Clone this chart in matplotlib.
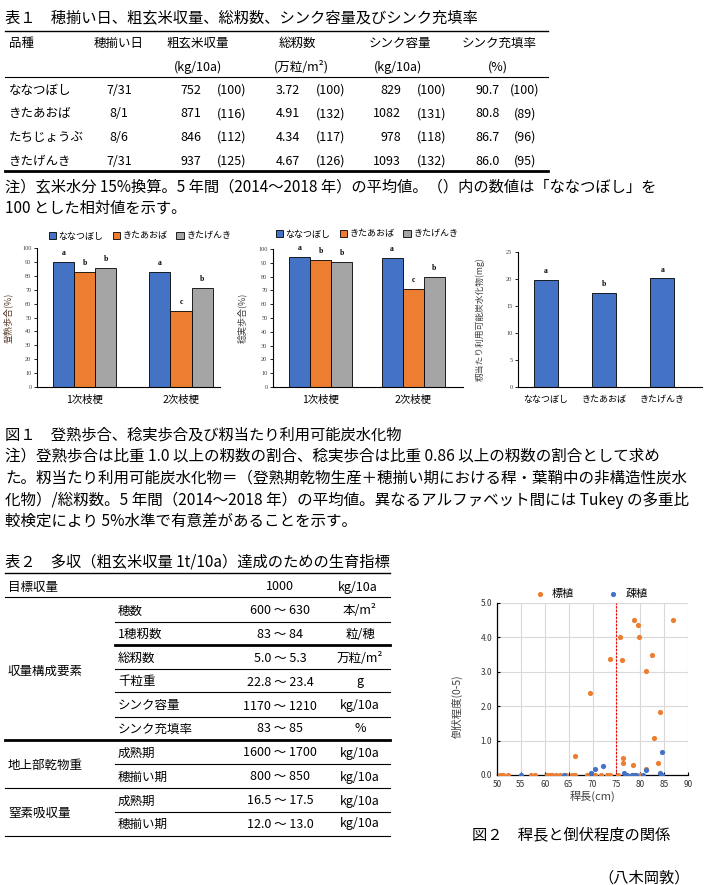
import numpy as np
import matplotlib.pyplot as plt
from matplotlib.lines import Line2D

plt.rcParams['font.family'] = ['Noto Sans CJK JP', 'DejaVu Sans']

# ---------------- data ----------------
# table 1
varieties = ["ななつぼし", "きたあおば", "たちじょうぶ", "きたげんき"]
heading_dates = ["7/31", "8/1", "8/6", "7/31"]
yield_kg = ["752", "871", "846", "937"]
yield_rel = [100, 116, 112, 125]
spikelets = ["3.72", "4.91", "4.34", "4.67"]
spikelets_rel = [100, 132, 117, 126]
sink_cap = ["829", "1082", "978", "1093"]
sink_rel = [100, 131, 118, 132]
filling = ["90.7", "80.8", "86.7", "86.0"]
filling_rel = [100, 89, 96, 95]

# figure 1
series_names = ["ななつぼし", "きたあおば", "きたげんき"]
branch_labels = ["1次枝梗", "2次枝梗"]
ripening = [[90.0, 82.5], [83.0, 55.0], [85.5, 71.5]]
ripening_letters = [["a", "a"], ["b", "c"], ["b", "b"]]
filled = [[94.2, 93.5], [92.0, 71.0], [90.6, 79.7]]
filled_letters = [["a", "a"], ["b", "c"], ["b", "b"]]
carb = [19.9, 17.5, 20.1]
carb_letters = ["a", "b", "a"]

# table 2
target_yield = "1000"
comp_items = ["穂数", "1穂籾数", "総籾数", "千粒重", "シンク容量", "シンク充填率"]
comp_ranges = ["600 ～ 630", "83 ～ 84", "5.0 ～ 5.3", "22.8 ～ 23.4", "1170 ～ 1210", "83 ～ 85"]
comp_units = ["本/m²", "粒/穂", "万粒/m²", "g", "kg/10a", "%"]
dm_items = ["成熟期", "穂揃い期"]
dm_ranges = ["1600 ～ 1700", "800 ～ 850"]
n_items = ["成熟期", "穂揃い期"]
n_ranges = ["16.5 ～ 17.5", "12.0 ～ 13.0"]

# figure 2
std_len = [86.8, 78.7, 79.6, 75.7, 79.8, 82.5, 73.6, 76.2, 81.2, 69.5, 84.1, 82.9,
           66.4, 76.4, 76.4, 83.7, 78.4, 81.2,
           50.7, 51.2, 52.4, 57.2, 57.9, 60.4, 61.0, 61.6, 62.3, 63.2, 64.4, 65.7,
           66.3, 68.9, 70.5, 71.8, 73.1, 73.7, 75.3, 78.2, 79.9]
std_lodg = [4.5, 4.5, 4.35, 4.0, 4.0, 3.5, 3.38, 3.35, 3.02, 2.38, 1.84, 1.07,
            0.55, 0.5, 0.35, 0.35, 0.3, 0.17,
            0, 0, 0, 0, 0, 0, 0, 0, 0, 0, 0, 0,
            0, 0, 0, 0, 0, 0, 0, 0, 0]
sparse_len = [55.0, 64.1, 69.7, 70.6, 72.1, 76.7, 77.2, 78.2, 78.7, 79.2, 80.6, 81.2, 84.1, 84.5, 84.5]
sparse_lodg = [0, 0, 0.07, 0.17, 0.25, 0.07, 0, 0, 0, 0, 0, 0.15, 0.05, 0, 0.68]

colors = ["#4472C4", "#ED7D31", "#A5A5A5"]

# ---------------- helpers ----------------
W, H = 705, 885
fig = plt.figure(figsize=(W / 100, H / 100), dpi=100)


def fx(x):
    return x / W


def fy(y):
    return 1 - y / H


def txt(x, y, s, size=9, ha="left", **kw):
    fig.text(fx(x), fy(y), s, fontsize=size, ha=ha, va="center", **kw)


def hline(y, x0, x1, lw=0.8):
    fig.add_artist(Line2D([fx(x0), fx(x1)], [fy(y), fy(y)],
                          transform=fig.transFigure, color="black", lw=lw))


def add_ax(l, t, r, b):
    return fig.add_axes([fx(l), fy(b), (r - l) / W, (b - t) / H])


#################
# TABLE 1       #
#################
txt(5, 18, "表１　穂揃い日、粗玄米収量、総籾数、シンク容量及びシンク充填率", size=11)
hline(31, 5, 548, lw=1.0)
txt(9, 43, "品種")
txt(119, 43, "穂揃い日", ha="center")
txt(198, 43, "粗玄米収量", ha="center")
txt(297, 43, "総籾数", ha="center")
txt(400, 43, "シンク容量", ha="center")
txt(499, 43, "シンク充填率", ha="center")
txt(198, 67, "(kg/10a)", ha="center")
txt(301, 67, "(万粒/m²)", ha="center")
txt(398, 67, "(kg/10a)", ha="center")
txt(498, 67, "(%)", ha="center")
hline(77, 5, 548, lw=0.8)

for i, v in enumerate(varieties):
    y = 90 + i * 23.7
    txt(9, y, v)
    txt(119, y, heading_dates[i], ha="center")
    txt(201, y, yield_kg[i], ha="right")
    txt(232, y, f"({yield_rel[i]})", ha="center")
    txt(300, y, spikelets[i], ha="right")
    txt(331, y, f"({spikelets_rel[i]})", ha="center")
    txt(401, y, sink_cap[i], ha="right")
    txt(432, y, f"({sink_rel[i]})", ha="center")
    txt(500, y, filling[i], ha="right")
    txt(525, y, f"({filling_rel[i]})", ha="center")
hline(171, 5, 548, lw=2.0)

txt(5, 187, "注）玄米水分 15%換算。5 年間（2014～2018 年）の平均値。（）内の数値は「ななつぼし」を", size=11)
txt(5, 208, "100 とした相対値を示す。", size=11)


#################
# FIGURE 1      #
#################
def style_bar_ax(ax, ymax, step):
    ax.spines["top"].set_visible(False)
    ax.spines["right"].set_visible(False)
    ax.spines["left"].set_linewidth(0.8)
    ax.spines["bottom"].set_linewidth(0.8)
    ax.set_ylim(0, ymax)
    ax.set_yticks(np.arange(0, ymax + 0.1, step))
    ax.tick_params(axis="y", direction="out", length=2, width=0.6, labelsize=4.5,
                   labelcolor="#404040", pad=2)
    ax.tick_params(axis="x", length=0, labelsize=7.5, pad=6)
    for lab in ax.get_yticklabels():
        lab.set_family("Liberation Serif")


def grouped(ax, values, letters, width):
    x = np.arange(len(branch_labels))
    for i, name in enumerate(series_names):
        bars = ax.bar(x + (i - 1) * width, values[i], width, color=colors[i],
                      edgecolor="black", linewidth=0.6, label=name)
        for b, lt in zip(bars, letters[i]):
            ax.annotate(lt, (b.get_x() + b.get_width() / 2, b.get_height()),
                        xytext=(0, 3.5), textcoords="offset points", ha="center",
                        va="bottom", fontsize=5.5, fontweight="bold",
                        family="Liberation Serif")
    ax.set_xticks(x)
    ax.set_xticklabels(branch_labels)


# chart A
axA = add_ax(37, 248, 220, 387)
grouped(axA, ripening, ripening_letters, 0.218)
axA.set_xlim(-0.492, 1.404)
style_bar_ax(axA, 100, 10)
axA.set_ylabel("登熟歩合(%)", fontsize=6.5, color="#5a3a2a")
axA.yaxis.set_label_coords((13 - 37) / 183, 0.5)
axA.legend(loc="center", bbox_to_anchor=(fx(140), fy(236)), bbox_transform=fig.transFigure,
           ncol=3, frameon=False, fontsize=6.5, handlelength=0.8, handleheight=0.8,
           handletextpad=0.3, columnspacing=1.0)

# chart B
axB = add_ax(273, 249, 463, 387)
grouped(axB, filled, filled_letters, 0.227)
axB.set_xlim(-0.514, 1.54)
style_bar_ax(axB, 100, 10)
axB.set_ylabel("稔実歩合(%)", fontsize=6.5, color="#404040")
axB.yaxis.set_label_coords((247 - 273) / 190, 0.5)
axB.legend(loc="center", bbox_to_anchor=(fx(367), fy(234)), bbox_transform=fig.transFigure,
           ncol=3, frameon=False, fontsize=6.5, handlelength=0.8, handleheight=0.8,
           handletextpad=0.3, columnspacing=1.0)

# chart C
axC = add_ax(518, 252, 702, 387)
xc = np.arange(len(series_names))
barsC = axC.bar(xc, carb, 0.41, color=colors[0], edgecolor="black", linewidth=0.6)
for b, lt in zip(barsC, carb_letters):
    axC.annotate(lt, (b.get_x() + b.get_width() / 2, b.get_height()),
                 xytext=(0, 3.5), textcoords="offset points", ha="center", va="bottom",
                 fontsize=5.5, fontweight="bold", family="Liberation Serif")
axC.set_xticks(xc)
axC.set_xticklabels(series_names)
axC.set_xlim(-0.48, 2.68)
style_bar_ax(axC, 25, 5)
axC.tick_params(axis="x", labelsize=6.5)
axC.set_ylabel("籾当たり利用可能炭水化物(mg)", fontsize=6.3, color="#404040")
axC.yaxis.set_label_coords((485 - 518) / 184, 0.5)

txt(5, 435, "図１　登熟歩合、稔実歩合及び籾当たり利用可能炭水化物", size=11)
txt(5, 456, "注）登熟歩合は比重 1.0 以上の籾数の割合、稔実歩合は比重 0.86 以上の籾数の割合として求め", size=11.2)
txt(5, 478, "た。籾当たり利用可能炭水化物＝（登熟期乾物生産＋穂揃い期における稈・葉鞘中の非構造性炭水", size=11.2)
txt(5, 500, "化物）/総籾数。5 年間（2014～2018 年）の平均値。異なるアルファベット間には Tukey の多重比", size=11.2)
txt(5, 521, "較検定により 5%水準で有意差があることを示す。", size=11.2)


#################
# TABLE 2       #
#################
txt(5, 562, "表２　多収（粗玄米収量 1t/10a）達成のための生育指標", size=11)
hline(573, 5, 390, lw=1.0)
txt(8, 587, "目標収量")
txt(280, 587, target_yield, ha="center")
txt(358, 587, "kg/10a", ha="center")
hline(597, 5, 390)

comp_y = [611, 634, 658, 682, 706, 729]
for yy, it, rg, un in zip(comp_y, comp_items, comp_ranges, comp_units):
    txt(118, yy, it)
    txt(280, yy, rg, ha="center")
    txt(360, yy, un, ha="center")
txt(8, 671, "収量構成要素")
hline(622, 115, 390)
hline(645, 115, 390, lw=2.0)
hline(669, 115, 390)
hline(692, 115, 390)
hline(717, 115, 390)
hline(740, 5, 390, lw=2.0)

for yy, it, rg in zip([753, 777], dm_items, dm_ranges):
    txt(118, yy, it)
    txt(280, yy, rg, ha="center")
    txt(360, yy, "kg/10a", ha="center")
txt(8, 765, "地上部乾物重")
hline(764, 115, 390)
hline(788, 5, 390)

for yy, it, rg in zip([801, 824], n_items, n_ranges):
    txt(118, yy, it)
    txt(280, yy, rg, ha="center")
    txt(360, yy, "kg/10a", ha="center")
txt(8, 813, "窒素吸収量")
hline(812, 115, 390)
hline(836, 5, 390)


#################
# FIGURE 2      #
#################
axS = add_ax(497, 603, 688, 775)
axS.scatter(std_len, std_lodg, s=14, color="#ED7D31", label="標植", zorder=3, linewidths=0)
axS.scatter(sparse_len, sparse_lodg, s=14, color="#4472C4", label="疎植", zorder=4, linewidths=0)
axS.axvline(75, color="red", lw=0.8, linestyle=(0, (2, 1.2)), zorder=2)
axS.set_xlim(50, 90)
axS.set_ylim(0, 5)
axS.set_xticks(np.arange(50, 91, 5))
axS.set_yticks(np.arange(0, 5.01, 1.0))
axS.set_yticklabels([f"{v:.1f}" for v in np.arange(0, 5.01, 1.0)])
axS.grid(True, color="#D9D9D9", lw=0.8)
axS.set_axisbelow(True)
for side in ["top", "right"]:
    axS.spines[side].set_visible(False)
axS.spines["left"].set_linewidth(0.9)
axS.spines["bottom"].set_linewidth(0.9)
axS.tick_params(axis="both", direction="in", length=2.5, width=0.8, labelsize=6,
                labelcolor="#333333")
axS.set_xlabel("稈長(cm)", fontsize=8, color="#404040", labelpad=1)
axS.set_ylabel("倒伏程度(0-5)", fontsize=7.5, color="#404040")
axS.yaxis.set_label_coords((463 - 497) / 191, 0.4)
axS.legend(loc="center", bbox_to_anchor=(fx(588), fy(594)), bbox_transform=fig.transFigure,
           ncol=2, frameon=False, fontsize=8, handletextpad=0.1, columnspacing=2.5,
           markerscale=1.0)

txt(472, 835, "図２　稈長と倒伏程度の関係", size=11)
txt(690, 878, "（八木岡敦）", size=11, ha="right")

fig.savefig("out.png", dpi=100)
